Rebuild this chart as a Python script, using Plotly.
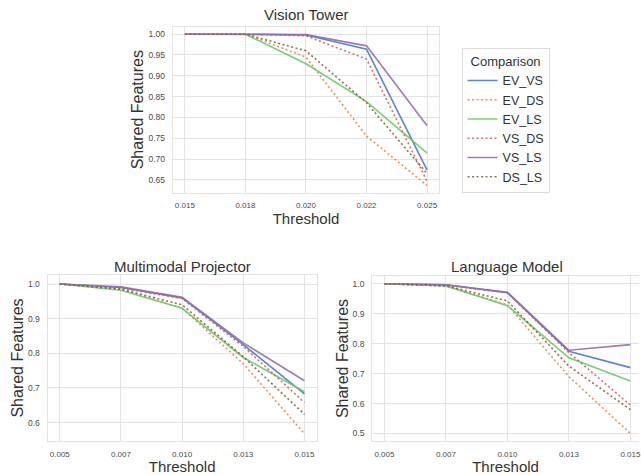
import plotly.graph_objects as go

# ---------------- data ----------------
series_names = ["EV_VS", "EV_DS", "EV_LS", "VS_DS", "VS_LS", "DS_LS"]

vt_thresholds = ["0.015", "0.018", "0.020", "0.022", "0.025"]
vt_values = {
    "EV_VS": [1.0, 1.0, 0.998, 0.964, 0.673],
    "EV_DS": [1.0, 1.0, 0.945, 0.755, 0.636],
    "EV_LS": [1.0, 1.0, 0.929, 0.838, 0.714],
    "VS_DS": [1.0, 1.0, 0.996, 0.940, 0.646],
    "VS_LS": [1.0, 1.0, 0.999, 0.972, 0.780],
    "DS_LS": [1.0, 1.0, 0.960, 0.835, 0.665],
}

mp_thresholds = ["0.005", "0.007", "0.010", "0.013", "0.015"]
mp_values = {
    "EV_VS": [1.0, 0.990, 0.960, 0.825, 0.683],
    "EV_DS": [1.0, 0.985, 0.930, 0.770, 0.568],
    "EV_LS": [1.0, 0.982, 0.930, 0.788, 0.689],
    "VS_DS": [1.0, 0.988, 0.958, 0.820, 0.658],
    "VS_LS": [1.0, 0.992, 0.962, 0.830, 0.721],
    "DS_LS": [1.0, 0.985, 0.940, 0.790, 0.624],
}

lm_thresholds = ["0.005", "0.007", "0.010", "0.013", "0.015"]
lm_values = {
    "EV_VS": [1.0, 0.997, 0.970, 0.775, 0.720],
    "EV_DS": [1.0, 0.993, 0.930, 0.690, 0.500],
    "EV_LS": [1.0, 0.993, 0.927, 0.753, 0.675],
    "VS_DS": [1.0, 0.995, 0.970, 0.770, 0.595],
    "VS_LS": [1.0, 0.997, 0.972, 0.778, 0.797],
    "DS_LS": [1.0, 0.993, 0.943, 0.725, 0.580],
}

# ---------------- styles ----------------
colors = {
    "EV_VS": "#4878d0",
    "EV_DS": "#ee854a",
    "EV_LS": "#6acc64",
    "VS_DS": "#d65f5f",
    "VS_LS": "#956cb4",
    "DS_LS": "#8c613c",
}
dashes = {
    "EV_VS": "solid",
    "EV_DS": "2px,2.5px",
    "EV_LS": "solid",
    "VS_DS": "2px,2.5px",
    "VS_LS": "solid",
    "DS_LS": "2px,2.5px",
}

FONT = "Liberation Sans, Arial, sans-serif"
GRID = "#e3e3e3"
TEXT = "#333333"
TICK = "#4a4a4a"

fig = go.Figure()

panels = [
    (vt_thresholds, vt_values, "x", "y", True),
    (mp_thresholds, mp_values, "x2", "y2", False),
    (lm_thresholds, lm_values, "x3", "y3", False),
]
for cats, vals, xa, ya, show in panels:
    for name in series_names:
        fig.add_trace(go.Scatter(
            x=cats, y=vals[name], mode="lines", name=name,
            legendgroup=name, showlegend=show,
            line=dict(color=colors[name], width=1.6, dash=dashes[name]),
            opacity=0.9, xaxis=xa, yaxis=ya,
        ))

W, H = 641, 475

def xdom(l, r):
    return [l / W, min(r / W, 1.0)]

def ydom(top, bottom):
    return [(H - bottom) / H, (H - top) / H]

def xaxis(dom, anchor, rng, mirror=True):
    return dict(
        domain=dom, anchor=anchor, type="category", range=rng,
        showgrid=True, gridcolor=GRID, gridwidth=1,
        showline=True, linecolor=GRID, linewidth=1, mirror=mirror,
        ticks="", ticklabelstandoff=5,
        tickfont=dict(family=FONT, size=8, color=TICK),
        title=dict(text="Threshold", font=dict(family=FONT, size=15, color=TEXT), standoff=2),
        zeroline=False, fixedrange=True,
    )

def yaxis(dom, anchor, rng, dtick, fmt, mirror=True):
    return dict(
        domain=dom, anchor=anchor, range=rng, dtick=dtick, tickformat=fmt,
        showgrid=True, gridcolor=GRID, gridwidth=1,
        showline=True, linecolor=GRID, linewidth=1, mirror=mirror,
        ticks="", ticklabelstandoff=5,
        tickfont=dict(family=FONT, size=8.5, color=TICK),
        title=dict(text="Shared Features", font=dict(family=FONT, size=16, color=TEXT), standoff=0),
        zeroline=False, fixedrange=True,
    )

fig.update_layout(
    width=W, height=H,
    margin=dict(l=0, r=0, t=0, b=0),
    paper_bgcolor="white", plot_bgcolor="white",
    font=dict(family=FONT, color=TEXT),
    xaxis=xaxis(xdom(173.3, 440.6), "y", [-0.2, 4.2]),
    yaxis=yaxis(ydom(26.7, 192.7), "x", [0.619, 1.018], 0.05, ".2f"),
    xaxis2=xaxis(xdom(47.7, 317.7), "y2", [-0.2, 4.2]),
    yaxis2=yaxis(ydom(275, 441), "x2", [0.547, 1.026], 0.1, ".1f"),
    xaxis3=xaxis(xdom(373.3, 641), "y3", [-0.2, 4.14]),
    yaxis3=yaxis(ydom(276, 441), "x3", [0.475, 1.026], 0.1, ".1f", mirror=False),
    legend=dict(
        x=463 / W, y=(H - 48) / H, xanchor="left", yanchor="top",
        bgcolor="white", bordercolor="#dddddd", borderwidth=1,
        font=dict(family=FONT, size=12.5, color=TEXT),
        title=dict(text="Comparison", side="top center",
                   font=dict(family=FONT, size=13, color=TEXT)),
        tracegroupgap=0, itemwidth=30,
    ),
    showlegend=True,
)

titles = [
    ("Vision Tower", 307, 15),
    ("Multimodal Projector", 183, 266),
    ("Language Model", 509, 266.5),
]
for text, cx, cy in titles:
    fig.add_annotation(
        text=text, x=cx / W, y=(H - cy) / H, xref="paper", yref="paper",
        xanchor="center", yanchor="middle", showarrow=False,
        font=dict(family=FONT, size=15, color=TEXT),
    )

fig.write_html("out.html")
